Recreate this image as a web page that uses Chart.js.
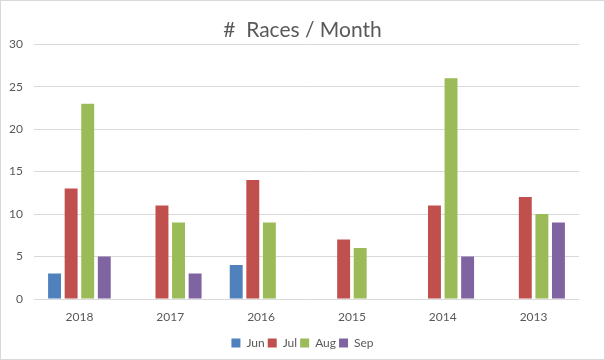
<!DOCTYPE html>
<html>
<head>
<meta charset="utf-8">
<script src="https://cdn.jsdelivr.net/npm/chart.js@4/dist/chart.umd.min.js"></script>
<style>
  body { margin: 0; background: #fff; }
  #wrap { width: 603px; height: 358px; border: 1px solid #d9d9d9; position: relative; }
</style>
</head>
<body>
<div id="wrap"><canvas id="racesChart"></canvas></div>
<script>
// races per month, one bar group per year
const years = ['2018', '2017', '2016', '2015', '2014', '2013'];
const jun = [3, null, 4, null, null, null];
const jul = [13, 11, 14, 7, 11, 12];
const aug = [23, 9, 9, 6, 26, 10];
const sep = [5, 3, null, null, 5, 9];
const yTicks = [0, 5, 10, 15, 20, 25, 30];

const grey = '#595959';
const fontFam = 'Lato, "Open Sans", sans-serif';

const ctx = document.getElementById('racesChart').getContext('2d');
const racesChart = new Chart(ctx, {
    type: 'bar',
    data: {
        labels: years,
        datasets: [
            { label: 'Jun', data: jun, backgroundColor: '#4f81bd' },
            { label: 'Jul', data: jul, backgroundColor: '#c0504d' },
            { label: 'Aug', data: aug, backgroundColor: '#9bbb59' },
            { label: 'Sep', data: sep, backgroundColor: '#8064a2' }
        ]
    },
    options: {
        responsive: true,
        maintainAspectRatio: false,
        animation: false,
        datasets: {
            bar: { categoryPercentage: 0.73, barPercentage: 0.78 }
        },
        layout: { padding: 0 },
        plugins: {
            title: {
                display: true,
                text: '#  Races / Month',
                color: grey,
                font: { family: fontFam, size: 21, weight: 'normal' },
                padding: { top: 17, bottom: 1 }
            },
            legend: {
                position: 'bottom',
                labels: {
                    color: grey,
                    boxWidth: 9,
                    boxHeight: 9,
                    padding: 3,
                    font: { family: fontFam, size: 12 }
                }
            },
            tooltip: { enabled: false }
        },
        scales: {
            x: {
                grid: { display: false, drawTicks: false },
                border: { display: false },
                afterFit: (axis) => { axis.height = 35; },
                ticks: { color: grey, font: { family: fontFam, size: 12 }, padding: 11 }
            },
            y: {
                min: 0,
                max: 30,
                afterBuildTicks: (axis) => { axis.ticks = yTicks.map(v => ({ value: v })); },
                afterFit: (axis) => { axis.width = 33; },
                grid: { color: '#d9d9d9', drawTicks: false },
                border: { display: false },
                ticks: { color: grey, font: { family: fontFam, size: 12 }, padding: 11 }
            },
            // empty right-hand axis: only reserves the blank strip right of the plot
            yRight: {
                position: 'right',
                min: 0,
                max: 30,
                afterFit: (axis) => { axis.width = 25; },
                grid: { display: false },
                border: { display: false },
                ticks: { display: false }
            }
        }
    }
});
</script>
</body>
</html>
